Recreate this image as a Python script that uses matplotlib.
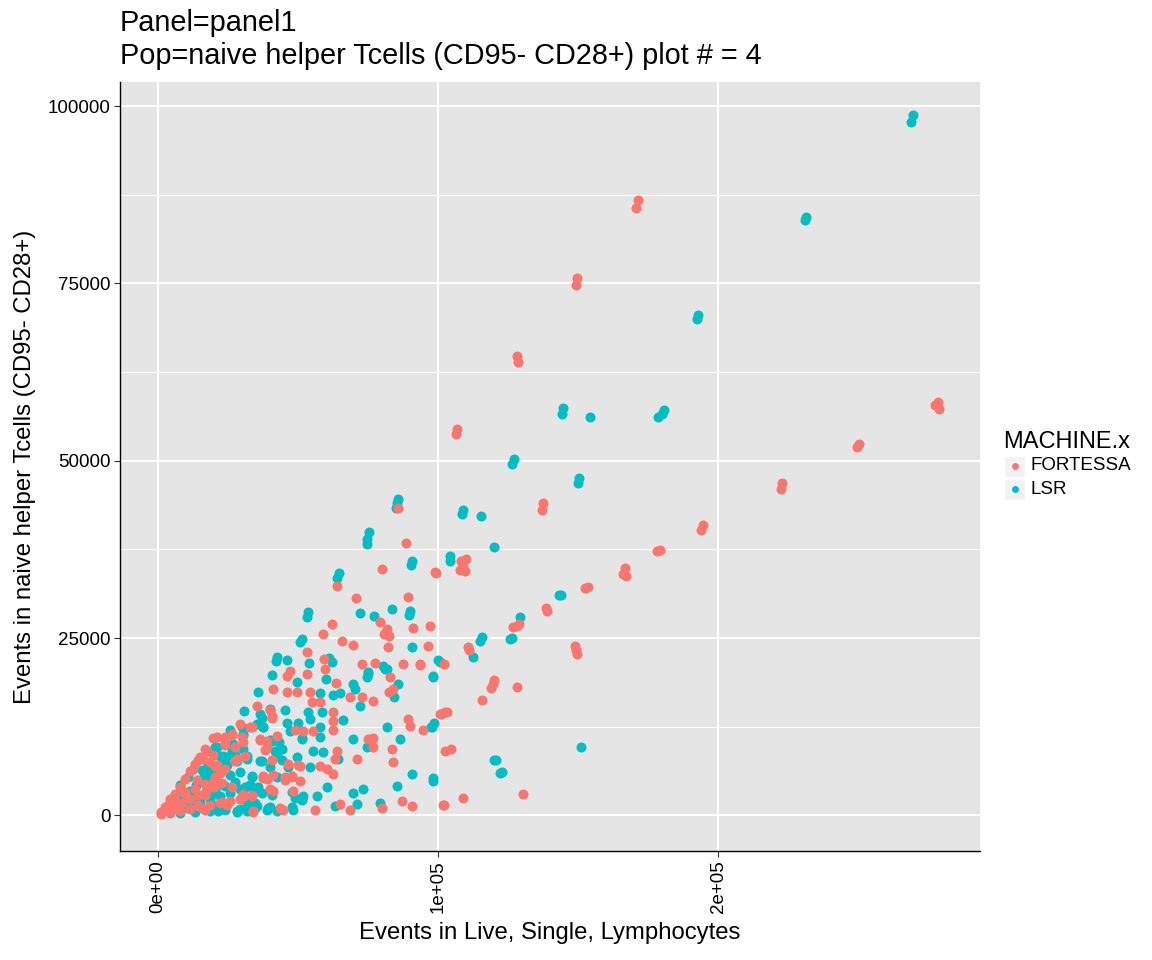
import numpy as np
import matplotlib
matplotlib.use("Agg")
import matplotlib.pyplot as plt
from matplotlib.patches import Rectangle
from matplotlib.lines import Line2D

plt.rcParams['font.family'] = ['Liberation Sans', 'DejaVu Sans']

# Values (events in lymphocytes, events in naive helper Tcells)
fortessa_pts = [
    (171200, 86700), (170600, 85600), (149600, 75800), (149300, 74800),
    (128200, 64800), (128600, 63900), (106800, 54500), (106400, 53700),
    (137500, 44000), (137000, 43100), (194600, 40900), (193800, 40300),
    (278600, 58300), (277300, 57800), (279000, 57300), (250400, 52300),
    (249600, 52000), (222900, 46900), (222300, 46000), (179300, 37400),
    (178200, 37300), (166800, 34900), (166000, 34000), (167000, 33700),
    (153600, 32200), (152600, 32000), (138900, 28800), (138500, 29200),
    (128200, 26700), (126800, 26500), (129000, 27000), (111100, 23300),
    (110500, 23800), (149300, 23300), (149000, 23900), (149600, 22800),
    (97100, 26700), (96400, 23900), (102100, 21300), (93600, 21300),
    (119600, 18500), (120000, 19100), (119000, 18000), (128200, 18100),
    (115700, 16200), (102500, 14500), (101000, 14300), (94600, 12000),
    (104600, 9300), (108900, 2500), (102100, 1400), (130400, 3000),
    (108900, 35200), (108200, 35800), (110000, 36200), (109500, 34400),
    (107800, 34600), (98900, 34300),
    (85800, 43300), (88600, 38400), (80000, 34700), (99300, 34200),
    (63900, 32300), (70700, 30600), (89300, 30800), (79300, 27300),
    (81800, 26300), (80700, 25600), (82500, 25300), (62100, 27000),
    (58900, 25600), (91100, 26400), (65700, 24600), (69600, 24000),
    (82100, 23700), (53200, 23000), (59300, 22000), (72900, 21300),
    (77500, 21500), (87500, 21300), (93600, 21200), (47100, 20300),
    (59600, 20600),
    (46100, 19600), (53200, 19900), (63600, 18600), (82900, 19500),
    (83900, 17800), (41100, 17800), (46100, 17400), (49600, 17400),
    (54300, 17400), (68600, 16700), (72900, 16700), (76800, 16100),
    (82500, 17400), (35400, 15400), (40700, 14000), (55000, 16000),
    (57900, 16000), (62500, 14500), (62500, 13300), (89300, 13600),
    (90000, 12600), (100700, 14300), (103200, 14500), (29300, 12900),
    (32900, 12400), (26400, 11400), (30000, 11000), (21100, 11000),
    (23900, 10300), (36400, 10700), (38900, 10500), (42500, 11200),
    (38900, 9600), (48900, 12100), (51800, 11900), (55400, 11900),
    (62500, 12100), (75000, 10700), (76800, 10900), (76800, 9700),
    (83600, 9300), (63900, 9000), (63200, 7900), (71100, 7900),
    (83900, 7500), (102500, 9000), (16100, 7900), (18600, 7500),
    (20400, 6900), (28200, 7900), (37500, 5500), (38900, 5100),
    (45400, 5400), (47900, 5500), (50700, 6900), (57900, 6900),
    (60400, 6500), (62500, 5800), (50700, 4800), (48200, 3400),
    (40000, 3700), (41100, 3400), (30400, 3000), (33600, 2700),
    (33900, 600), (44600, 800), (56100, 800), (65000, 1600),
    (68600, 800), (80000, 1100), (87100, 2000), (90700, 1300),
    (101800, 1400),
    (40000, 14800), (40600, 13700), (33400, 12500), (19700, 10900),
    (23900, 11100), (26300, 11300), (30500, 10400), (36400, 10600),
    (23900, 9900), (27500, 9700), (17400, 9000), (19700, 8500),
    (38200, 9200), (14400, 7800), (21000, 7100), (40600, 7800),
    (46500, 7300), (50100, 7100), (12600, 6600), (22100, 5900),
    (37600, 5200), (41200, 5700), (45300, 5000), (47700, 5400),
    (13800, 5000), (19700, 4500), (26300, 4000), (30500, 2600),
    (33400, 2900), (43600, 1000), (34000, 500), (24500, 1450),
    (9600, 3300), (6100, 2900), (3700, 1450), (16800, 2900),
    (14400, 1450), (22700, 1900), (16800, 750),
    (2500, 1130), (4300, 2260), (6100, 2970), (7900, 3950), (9600, 5080),
    (11400, 6210), (13200, 7200), (15000, 8190), (16800, 9320),
    (3600, 560), (6100, 1130), (8600, 1690), (11400, 2260), (14300, 2820),
    (17100, 3390), (20000, 3950), (22900, 4520), (4300, 280), (7900, 560),
    (11400, 850), (15000, 1130), (18600, 1410), (22100, 1690),
    (25700, 1970), (29300, 2260), (6100, 1970), (9600, 2970),
    (13200, 3670), (16800, 4380), (20400, 5360), (23900, 6490),
    (27500, 7610), (31100, 8320), (1200, 500), (900, 200),
]

lsr_pts = [
    (269500, 98700), (268800, 97700), (231400, 84400), (231000, 84000),
    (192700, 70500), (192300, 70000), (144600, 57500), (144300, 56600),
    (154300, 56200), (180600, 57200), (180000, 56600), (178400, 56200),
    (127000, 50200), (126500, 49600), (150200, 47600), (149800, 46800),
    (108800, 43000), (108400, 42500), (115400, 42200), (120000, 37900),
    (104300, 36500), (104300, 35900), (143900, 31100), (143200, 31000),
    (129300, 28000), (126400, 25000), (125800, 24800), (115000, 24600),
    (115600, 25100), (112500, 22300), (100700, 21600), (99800, 21900),
    (98200, 19500), (97500, 12400), (98400, 13000), (151100, 9600),
    (120700, 7800), (120000, 7800), (122900, 6100), (122200, 5900),
    (98200, 4800), (98000, 5300),
    (85400, 44100), (85100, 43400), (85800, 44600), (74600, 38200),
    (74700, 38900), (75400, 40000), (90700, 35900), (90400, 35300),
    (63900, 33400), (64600, 34100), (83600, 29100), (72100, 28500),
    (77100, 28100), (90000, 28800), (89700, 28200), (53200, 28000),
    (53600, 28700), (50700, 24400), (51400, 24900), (90700, 23700),
    (42500, 22300), (42200, 21700), (46100, 21900), (61100, 22200),
    (62000, 21600), (53900, 21500), (80400, 21000), (81100, 20600),
    (40700, 19800), (75000, 20200), (74600, 19500), (98200, 19600),
    (49600, 18800), (60000, 19200), (69600, 18500), (75000, 19900),
    (81800, 20600), (85700, 18500), (35700, 17400), (57900, 17300),
    (62500, 17000), (65000, 17300), (70400, 17800), (72100, 15400),
    (84300, 16700), (30700, 14700), (36400, 14300), (40000, 15000),
    (45400, 14800), (53600, 14500), (54300, 13600), (58600, 14500),
    (66100, 13400), (81800, 12400), (97900, 12400), (25700, 12100),
    (35400, 12900), (37500, 12400), (30400, 11400), (20400, 9700),
    (26800, 10000), (40700, 10500), (43600, 9300), (42500, 8300),
    (47100, 11900), (51400, 10700), (57900, 12400), (57900, 11000),
    (69600, 10700), (74600, 9600), (86400, 10700), (55400, 9000),
    (58900, 8900), (64300, 7900), (90700, 5800), (22100, 8300),
    (23200, 7900), (31100, 8300), (31800, 7900), (33600, 5500),
    (36400, 7600), (40000, 6800), (42500, 5400), (46400, 6800),
    (49600, 8200), (54300, 6800), (60400, 4000), (48900, 2500),
    (51800, 2700), (56800, 2700), (35700, 4000), (34600, 3400),
    (32100, 4100), (31800, 1800), (34600, 1800), (38900, 800),
    (42500, 600), (48200, 800), (63200, 1300), (71100, 1600),
    (69600, 3200), (73200, 3700), (79300, 1800), (85400, 4100),
    (28200, 600), (31800, 600), (35400, 1300),
    (37000, 13700), (45900, 13000), (50000, 13000), (29900, 12500),
    (37600, 12500), (30500, 11300), (40000, 10600), (43000, 10400),
    (51300, 10900), (21000, 9700), (30500, 9400), (41800, 9000),
    (44200, 9400), (23300, 8300), (27500, 8500), (31700, 8300),
    (18000, 7300), (24500, 7100), (28100, 7600), (37000, 7600),
    (44200, 7800), (15600, 6400), (18600, 6100), (25700, 5700),
    (29300, 6100), (33500, 5400), (10800, 5400), (16800, 5000),
    (23300, 4300), (31100, 4000), (34600, 3800), (37000, 3100),
    (40600, 2900), (47700, 3300), (47700, 1200), (51300, 2200),
    (39400, 1000), (28100, 500), (7900, 4300), (8500, 1900),
    (13200, 2400), (20300, 3100), (19200, 1450), (10800, 1000),
    (21500, 600),
    (2900, 850), (5000, 1550), (7100, 2260), (9300, 2820), (11400, 3390),
    (13600, 4240), (15700, 5080), (17900, 5780), (20000, 6490),
    (22100, 7200), (24300, 8190), (26400, 9040), (4300, 560), (7900, 990),
    (11400, 1410), (15000, 1830), (18600, 2260), (22100, 2680),
    (25700, 3100), (29300, 3670), (32900, 4240), (7900, 280), (13200, 420),
    (18600, 560), (23900, 710), (29300, 850), (34600, 990), (40000, 1130),
    (9600, 1970), (13200, 2540), (16800, 2970), (20400, 3390),
    (23900, 4100), (27500, 4660),
]

machines = ["FORTESSA", "LSR"]
colors = ["#F8766D", "#00BFC4"]
x_ticks = [0, 100000, 200000]
x_labels = ["0e+00", "1e+05", "2e+05"]
y_ticks = [0, 25000, 50000, 75000, 100000]

fortessa = np.array(fortessa_pts)
lsr = np.array(lsr_pts)

fig = plt.figure(figsize=(11.52, 9.6), dpi=100)
ax = fig.add_axes([120/1152, 1-851/960, 860/1152, 769/960])
ax.set_facecolor("#E5E5E5")

# LSR under, FORTESSA on top (the red fan near the origin sits over the teal one)
ax.scatter(lsr[:, 0], lsr[:, 1], s=52, color=colors[1], linewidths=0, zorder=3)
ax.scatter(fortessa[:, 0], fortessa[:, 1], s=52, color=colors[0], linewidths=0, zorder=3)

ax.set_xlim(-13600, 293500)
ax.set_ylim(-5030, 103400)

ax.set_xticks(x_ticks)
ax.set_xticklabels(x_labels, rotation=90)
ax.set_yticks(y_ticks)
ax.set_yticklabels([str(v) for v in y_ticks])
ax.set_yticks([12500, 37500, 62500, 87500], minor=True)
ax.tick_params(axis='both', which='major', labelsize=13.5, length=4, width=0.8,
               color='#333333', labelcolor='black', pad=3)
ax.tick_params(axis='y', which='minor', length=0)

ax.grid(True, which='major', color='white', linewidth=1.4, zorder=0)
ax.grid(True, which='minor', axis='y', color='white', linewidth=0.7, zorder=0)
ax.set_axisbelow(True)

for side in ['top', 'right']:
    ax.spines[side].set_visible(False)
for side in ['left', 'bottom']:
    ax.spines[side].set_color('black')
    ax.spines[side].set_linewidth(1.0)

ax.set_xlabel("Events in Live, Single, Lymphocytes", fontsize=17.2, labelpad=6)
ax.set_ylabel("Events in naive helper Tcells (CD95- CD28+)", fontsize=17.2, labelpad=8)
ax.set_title("Panel=panel1\nPop=naive helper Tcells (CD95- CD28+) plot # = 4",
             fontsize=20.8, loc='left', pad=13, linespacing=1.22)

# legend drawn by hand to mimic the grey key boxes
fig.text(1003/1152, 1-448/960, "MACHINE.x", fontsize=17, ha='left', va='baseline')
for i, (name, col) in enumerate(zip(machines, colors)):
    cy = 466 + i * 23
    fig.add_artist(Rectangle((1004/1152, 1-(cy+11)/960), 21/1152, 21/960,
                             transform=fig.transFigure, facecolor='#F2F2F2',
                             edgecolor='white', linewidth=1))
    fig.add_artist(Line2D([1014.5/1152], [1-cy/960], marker='o', markersize=5,
                          color=col, markeredgewidth=0, transform=fig.transFigure))
    fig.text(1030/1152, 1-cy/960, name, fontsize=13.5, ha='left', va='center')

fig.savefig("out.png", dpi=100)
